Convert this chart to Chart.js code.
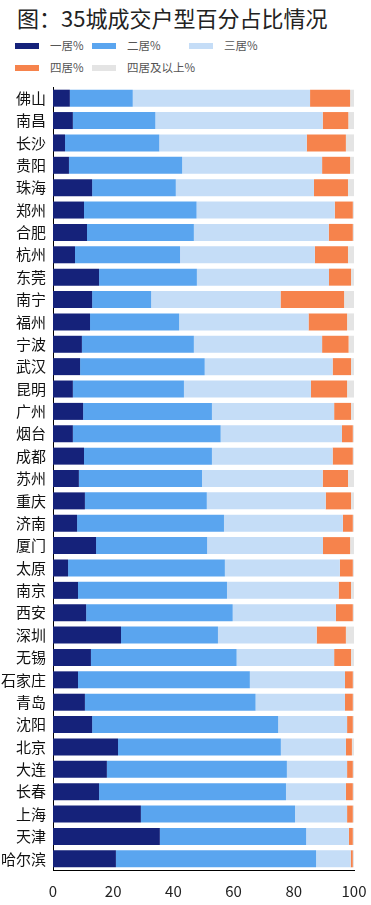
<!DOCTYPE html>
<html>
<head>
<meta charset="utf-8">
<script src="https://cdn.jsdelivr.net/npm/chart.js@4"></script>
<style>
  body { margin: 0; background: #fff; font-family: "Noto Sans CJK SC", sans-serif; }
  #wrap { position: relative; width: 371px; height: 905px; overflow: hidden; }
  #title { position: absolute; left: 17px; top: 1px; font-size: 22px; color: #222; white-space: nowrap; }
  .lg { position: absolute; font-size: 11.5px; color: #555; white-space: nowrap; }
  .lg i { position: absolute; left: 0; top: 6px; width: 24px; height: 6px; }
  .lg span { position: absolute; left: 35px; top: 0; }
  #chartBox { position: absolute; left: 0; top: 78px; }
</style>
</head>
<body>
<div id="wrap">
  <div id="title">图：35城成交户型百分占比情况</div>
  <div id="legend"></div>
  <div id="chartBox"><canvas id="myChart" width="371" height="838"></canvas></div>
</div>
<script>
const cities = ['佛山', '南昌', '长沙', '贵阳', '珠海', '郑州', '合肥', '杭州', '东莞', '南宁',
  '福州', '宁波', '武汉', '昆明', '广州', '烟台', '成都', '苏州', '重庆', '济南',
  '厦门', '太原', '南京', '西安', '深圳', '无锡', '石家庄', '青岛', '沈阳', '北京',
  '大连', '长春', '上海', '天津', '哈尔滨'];

const yiju = [5.6, 6.6, 4.0, 5.3, 13.0, 10.3, 11.3, 7.3, 15.3, 13.0,
  12.3, 9.6, 9.0, 6.6, 10.0, 6.6, 10.3, 8.6, 10.6, 8.0,
  14.3, 5.0, 8.3, 11.0, 22.6, 12.6, 8.3, 10.6, 13.0, 21.6,
  17.9, 15.3, 29.2, 35.5, 20.9];
const erju = [20.9, 27.4, 31.3, 37.6, 27.8, 37.4, 35.5, 34.9, 32.5, 19.6,
  29.6, 37.2, 41.4, 36.9, 42.8, 49.1, 42.5, 40.9, 40.5, 48.8,
  36.9, 52.1, 49.5, 48.7, 32.2, 48.4, 57.1, 56.7, 61.8, 54.1,
  59.8, 62.1, 51.2, 48.6, 66.5];
const sanju = [58.9, 55.6, 49.0, 46.5, 45.9, 45.9, 44.8, 44.8, 43.9, 43.0,
  43.0, 42.6, 42.5, 42.2, 40.6, 40.3, 40.1, 40.1, 39.5, 39.5,
  38.5, 38.2, 37.1, 34.3, 32.8, 32.4, 31.6, 29.7, 22.9, 21.6,
  20.0, 19.9, 17.3, 14.2, 11.5];
const siju = [13.3, 8.5, 13.0, 9.3, 11.3, 6.0, 8.0, 11.0, 7.3, 21.1,
  12.8, 8.8, 6.1, 12.0, 5.6, 3.6, 6.7, 8.4, 8.4, 3.3,
  9.0, 4.3, 4.1, 5.6, 9.7, 5.6, 2.6, 2.6, 1.9, 2.0,
  1.9, 2.3, 1.9, 1.3, 0.7];
const sijuUp = [1.3, 1.9, 2.7, 1.3, 2.0, 0.4, 0.4, 2.0, 1.0, 3.3,
  2.3, 1.8, 1.0, 2.3, 1.0, 0.4, 0.4, 2.0, 1.0, 0.4,
  1.3, 0.4, 1.0, 0.4, 2.7, 1.0, 0.4, 0.4, 0.4, 0.7,
  0.4, 0.4, 0.4, 0.4, 0.4];
const xTicks = [0, 20, 40, 60, 80, 100];

const series = [
  { label: '一居%', data: yiju, color: '#15227a', x: 15, y: 37 },
  { label: '二居%', data: erju, color: '#5aa5ef', x: 92, y: 37 },
  { label: '三居%', data: sanju, color: '#c5ddf7', x: 189, y: 37 },
  { label: '四居%', data: siju, color: '#f6834c', x: 15, y: 59 },
  { label: '四居及以上%', data: sijuUp, color: '#e4e4e4', x: 92, y: 59 }
];

// legend in two rows like the picture
const legend = document.getElementById('legend');
series.forEach(function (s) {
  legend.innerHTML += '<div class="lg" style="left:' + s.x + 'px;top:' + s.y + 'px"><i style="background:' + s.color + '"></i><span>' + s.label + '</span></div>';
});

const ctx = document.getElementById('myChart').getContext('2d');
const myChart = new Chart(ctx, {
  type: 'bar',
  data: {
    labels: cities,
    datasets: series.map((s) => ({
      label: s.label,
      data: s.data,
      backgroundColor: s.color,
      borderWidth: 0,
      barPercentage: 0.76,
      categoryPercentage: 1
    }))
  },
  options: {
    indexAxis: 'y',
    responsive: false,
    animation: false,
    layout: { padding: { top: 9, right: 0, bottom: 4, left: 0 } },
    plugins: {
      legend: { display: false },
      tooltip: { enabled: false }
    },
    scales: {
      x: {
        stacked: true,
        min: 0,
        max: 100,
        afterBuildTicks: (scale) => { scale.ticks = xTicks.map((v) => ({ value: v })); },
        afterFit: (scale) => { scale.paddingLeft = 0; scale.paddingRight = 17; },
        grid: { display: false, drawTicks: false },
        border: { display: true, color: '#000', width: 1 },
        ticks: { padding: 12, color: '#222', font: { size: 15, family: 'Noto Sans CJK SC' } }
      },
      y: {
        stacked: true,
        afterFit: (scale) => { scale.width = 53; scale.paddingTop = 0; scale.paddingBottom = 0; },
        grid: { display: false, drawTicks: false },
        border: { display: true, color: '#000', width: 1 },
        ticks: { padding: 7, color: '#111', font: { size: 15, family: 'Noto Sans CJK SC' } }
      }
    }
  }
});
</script>
</body>
</html>
